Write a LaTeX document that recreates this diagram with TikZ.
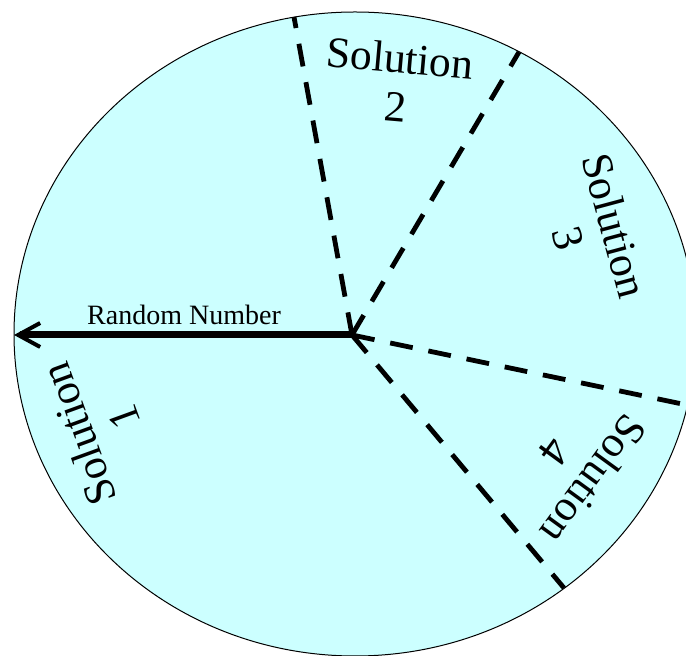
\documentclass[tikz,border=0pt]{standalone}
\usepackage{fontspec}
\setmainfont{Liberation Serif}
\usetikzlibrary{arrows.meta,positioning}
\definecolor{wheelFill}{HTML}{CCFFFF}
\tikzset{
  wheel/.style={draw=black, line width=0.5pt, fill=wheelFill},
  divider/.style={line width=2.4pt, dash pattern=on 11.5pt off 8pt},
  pointer/.style={-{Straight Barb[length=11pt,width=12pt,line width=2pt]}, line width=3.5pt},
  sector/.style={font=\fontsize{21.8}{24}\selectfont, align=center, inner sep=0pt},
  tag/.style={font=\fontsize{14}{16}\selectfont, inner sep=1pt}
}

\begin{document}
\begin{tikzpicture}[x=0.5pt, y=-0.5pt]
  \useasboundingbox (0,0) rectangle (686,656);
  \clip (0,0) rectangle (686,656);
  \draw[wheel] (355,334) ellipse [x radius=341, y radius=322];
  \coordinate (hub) at (352,335);
  \coordinate (rim1) at (14,335);
  \coordinate (rim2) at (294,17);
  \coordinate (rim3) at (519,52);
  \coordinate (rim4) at (687,405);
  \coordinate (rim5) at (564,588);
  \draw[divider] (hub) -- (rim2);
  \draw[divider] (hub) -- (rim3);
  \draw[divider] (hub) -- (rim4);
  \draw[divider] (hub) -- (rim5);
  \draw[pointer] (hub) -- (rim1);
  \node[tag] (rand) at (184,315) {Random Number};
  \node[sector, rotate=110] (sol1) at (101,426) {Solution\\1};
  \node[sector, rotate=-5] (sol2) at (398,82) {Solution\\2};
  \node[sector, rotate=-75] (sol3) at (592,232) {Solution\\3};
  \node[sector, rotate=-126] (sol4) at (575,466) {Solution\\4};
\end{tikzpicture}
\end{document}
